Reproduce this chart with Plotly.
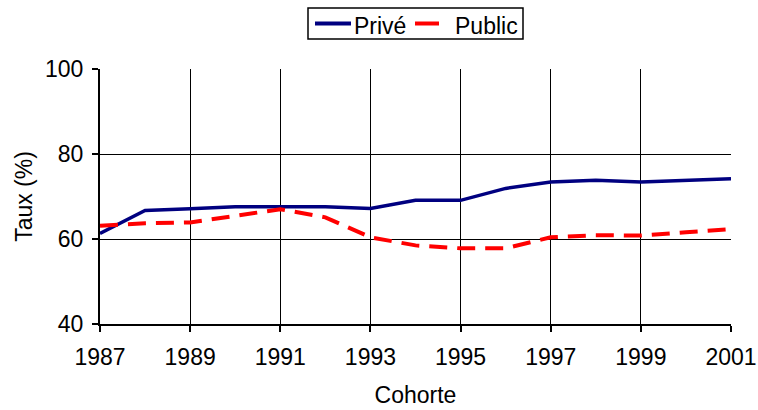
import plotly.graph_objects as go

# Cohort years and rates (%) by sector
cohortes = [1987, 1988, 1989, 1990, 1991, 1992, 1993, 1994, 1995, 1996, 1997, 1998, 1999, 2000, 2001]
prive = [61.3, 66.7, 67.1, 67.6, 67.6, 67.6, 67.2, 69.1, 69.1, 71.9, 73.4, 73.8, 73.4, 73.8, 74.2]
public = [63.1, 63.7, 63.9, 65.4, 67.0, 65.1, 60.4, 58.5, 57.8, 57.8, 60.4, 60.9, 60.8, 61.6, 62.3]

x_ticks = [1987, 1989, 1991, 1993, 1995, 1997, 1999, 2001]
y_ticks = [40, 60, 80, 100]

font_family = "Liberation Sans, Arial, sans-serif"
fs = 23
W, H = 758, 410
ML, MR, MT, MB = 100, 27, 69, 86
PW, PH = W - ML - MR, H - MT - MB

series = [
    dict(name="Privé", y=prive, color="#000080", width=3.5, dash="solid"),
    dict(name="Public", y=public, color="#FF0000", width=4, dash="18px,10px"),
]

fig = go.Figure()
for s in series:
    fig.add_trace(go.Scatter(
        x=cohortes, y=s["y"], name=s["name"], mode="lines",
        line=dict(color=s["color"], width=s["width"], dash=s["dash"]),
    ))


def px_x(px):
    return (px - ML) / PW


def px_y(py):
    return (H - MB - py) / PH


# Framed legend above the plot, built from shapes and text
shapes = [dict(type="rect", xref="paper", yref="paper",
               x0=px_x(308), x1=px_x(523), y0=px_y(39), y1=px_y(8),
               line=dict(color="black", width=1.5), fillcolor="white")]
annotations = []
legend_items = [(315, 351, 352), (415, 439, 453)]
for s, (x0, x1, xt) in zip(series, legend_items):
    shapes.append(dict(type="line", xref="paper", yref="paper",
                       x0=px_x(x0), x1=px_x(x1), y0=px_y(23.5), y1=px_y(23.5),
                       line=dict(color=s["color"], width=4)))
    annotations.append(dict(text=s["name"], xref="paper", yref="paper",
                            x=px_x(xt), y=px_y(26), xanchor="left", yanchor="middle",
                            showarrow=False, font=dict(size=fs, color="black")))

fig.update_layout(
    width=W, height=H,
    margin=dict(l=ML, r=MR, t=MT, b=MB, autoexpand=False),
    paper_bgcolor="white", plot_bgcolor="white",
    font=dict(family=font_family, size=fs, color="black"),
    showlegend=False,
    shapes=shapes,
    annotations=annotations,
    xaxis=dict(
        range=[1987, 2001], tickvals=x_ticks, ticktext=[str(v) for v in x_ticks],
        showgrid=True, gridcolor="black", gridwidth=1.2,
        showline=True, linecolor="black", linewidth=2, mirror=False,
        ticks="outside", ticklen=6, tickwidth=1.5, tickcolor="black",
        zeroline=False, automargin=False, ticklabelstandoff=5,
        title=dict(text="Cohorte", standoff=18, font=dict(size=fs)),
        tickfont=dict(size=fs),
    ),
    yaxis=dict(
        range=[40, 100], tickvals=y_ticks,
        showgrid=True, gridcolor="black", gridwidth=1.2,
        showline=True, linecolor="black", linewidth=2,
        ticks="outside", ticklen=6, tickwidth=1.5, tickcolor="black",
        zeroline=False, automargin=False, ticklabelstandoff=4,
        title=dict(text="Taux (%)", standoff=6, font=dict(size=fs)),
        tickfont=dict(size=fs),
    ),
)

fig.write_html("out.html")
